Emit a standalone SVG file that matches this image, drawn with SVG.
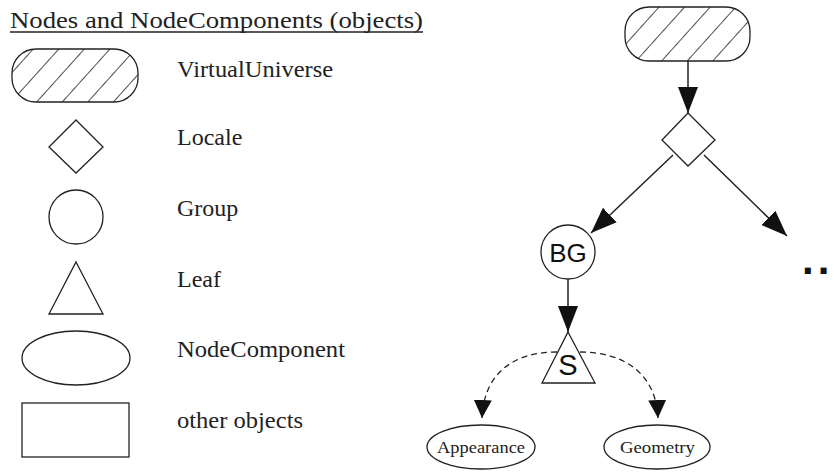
<svg xmlns="http://www.w3.org/2000/svg" width="834" height="472" viewBox="0 0 834 472">
<style>
.s{fill:#fff;stroke:#222;stroke-width:1.3}
.t{font-family:"Liberation Serif",serif;font-size:24px;fill:#222}
.h{font-family:"Liberation Sans",sans-serif;fill:#111}
.c{fill:none;stroke:#222;stroke-width:1.5}
.d{fill:none;stroke:#222;stroke-width:1.3;stroke-dasharray:6 4}
.n{font-family:"Liberation Serif",serif;font-size:17px;fill:#222}
</style>
<defs>
<pattern id="hatch" patternUnits="userSpaceOnUse" width="19" height="19" patternTransform="rotate(42)">
<rect width="19" height="19" fill="#fff"/>
<line x1="0" y1="0" x2="0" y2="19" stroke="#222" stroke-width="1.6"/>
</pattern>
<marker id="ah" markerUnits="userSpaceOnUse" markerWidth="30" markerHeight="24" refX="26" refY="10" orient="auto">
<path d="M0,0 L26,10 L0,20 Z" fill="#111"/>
</marker>
<marker id="as" markerUnits="userSpaceOnUse" markerWidth="24" markerHeight="20" refX="18" refY="9" orient="auto">
<path d="M0,0 L18,9 L0,18 Z" fill="#111"/>
</marker>
</defs>

<g id="legend">
<text class="t" x="10" y="28" textLength="413" lengthAdjust="spacingAndGlyphs" style="font-size:23px">Nodes and NodeComponents (objects)</text>
<line x1="10" y1="32" x2="423" y2="32" stroke="#222" stroke-width="1.3"/>
<g id="legend-vu"><rect class="s" x="12" y="49" width="126" height="53" rx="24" style="fill:url(#hatch)"/><text class="t" x="177" y="77" textLength="156" lengthAdjust="spacingAndGlyphs">VirtualUniverse</text></g>
<g id="legend-locale"><polygon class="s" points="76,120 103,147 76,173 49,147"/><text class="t" x="177" y="145">Locale</text></g>
<g id="legend-group"><circle class="s" cx="76" cy="217" r="27"/><text class="t" x="177" y="216">Group</text></g>
<g id="legend-leaf"><polygon class="s" points="76,262 103,314 49,314"/><text class="t" x="177" y="287">Leaf</text></g>
<g id="legend-nc"><ellipse class="s" cx="76" cy="358" rx="54" ry="27"/><text class="t" x="177" y="357" textLength="168" lengthAdjust="spacingAndGlyphs">NodeComponent</text></g>
<g id="legend-other"><rect class="s" x="22" y="403" width="107" height="54"/><text class="t" x="177" y="428" textLength="126" lengthAdjust="spacingAndGlyphs">other objects</text></g>
</g>

<g id="connectors">
<line class="c" x1="688" y1="61" x2="688" y2="113" marker-end="url(#ah)"/>
<line class="c" x1="673" y1="155" x2="591" y2="233" marker-end="url(#ah)"/>
<line class="c" x1="704" y1="155" x2="787" y2="236" marker-end="url(#ah)"/>
<line class="c" x1="568" y1="279" x2="568" y2="332" marker-end="url(#ah)"/>
<path class="d" d="M557,352 C515,352 484,372 482,418" marker-end="url(#as)"/>
<path class="d" d="M580,352 C622,352 656,372 658,418" marker-end="url(#as)"/>
</g>

<g id="vu"><rect class="s" x="625" y="7" width="125" height="54" rx="24" style="fill:url(#hatch)"/></g>
<g id="locale"><polygon class="s" points="688,113 715,140 688,166 662,140"/></g>
<g id="bg"><circle class="s" cx="568" cy="252" r="27"/><text class="h" x="568" y="262" font-size="26" text-anchor="middle">BG</text></g>
<g id="more"><text class="h" x="802" y="274" font-size="42" font-weight="bold">.<tspan dx="4">.</tspan></text></g>
<g id="shape"><polygon class="s" points="568,332 595,383 542,383"/><text class="h" x="568" y="375" font-size="29" text-anchor="middle">S</text></g>
<g id="appearance"><ellipse class="s" cx="481" cy="447" rx="54" ry="22"/><text class="n" x="437" y="453" textLength="88" lengthAdjust="spacingAndGlyphs">Appearance</text></g>
<g id="geometry"><ellipse class="s" cx="657" cy="447" rx="53" ry="22"/><text class="n" x="620" y="453" textLength="75" lengthAdjust="spacingAndGlyphs">Geometry</text></g>
</svg>
